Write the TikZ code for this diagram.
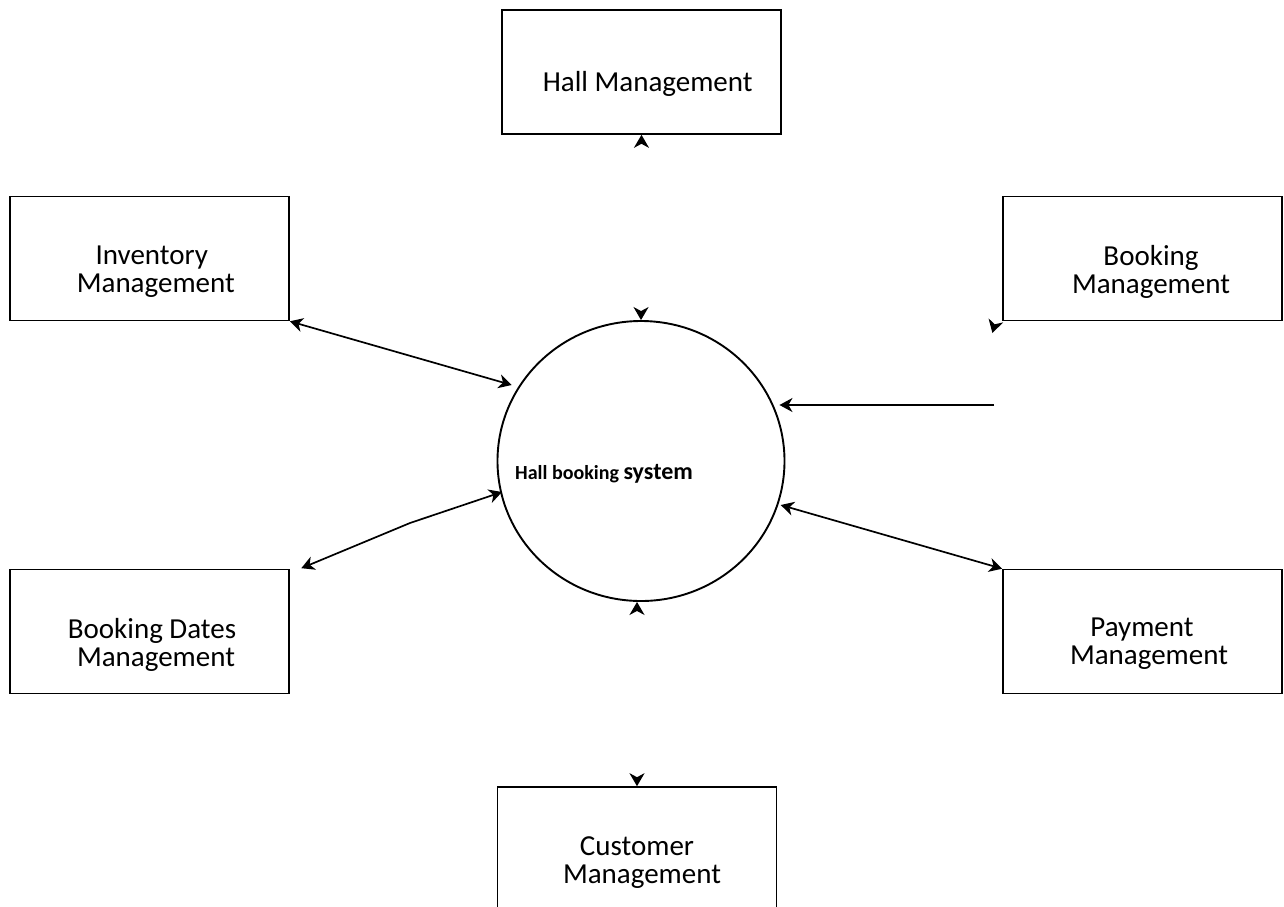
\documentclass[tikz,border=0pt]{standalone}
\usepackage{fontspec}
\setmainfont{Carlito}
\usetikzlibrary{arrows.meta,shapes.geometric}
\begin{document}
\begin{tikzpicture}[x=1pt,y=-1pt,
  >={Stealth[length=13pt,width=14pt,inset=4pt]},
  box/.style={draw=black,line width=1.6pt,rectangle,minimum width=279pt,minimum height=124pt,inner sep=0pt},
  lbl/.style={font=\fontsize{29}{28}\selectfont,align=center,inner sep=0pt,text=black},
  proc/.style={draw=black,line width=1.9pt,ellipse,minimum width=287pt,minimum height=280pt,inner sep=0pt},
  flow/.style={draw=black,line width=1.7pt},
  ghost/.style={draw=white,line width=1.7pt},
  gtip/.tip={Stealth[length=13pt,width=15pt,inset=4pt,color=black,fill=black]}
]
\path[use as bounding box,fill=white] (0,0) rectangle (1284,906);

% boxes
\node[box] (hall) at (641.5,72) {};
\node[box] (inv) at (149.5,258.5) {};
\node[box] (bk) at (1142.5,258.5) {};
\node[box] (dates) at (149.5,631.5) {};
\node[box] (pay) at (1142.5,631.5) {};
\node[box] (cust) at (637,849) {};
\node[proc] (circ) at (641,461) {};

% labels
\node[lbl,anchor=base] (hallT) at (647.7,91.7) {Hall Management};
\node[lbl] (invT) at (155.8,271.5) {Inventory\kern8pt\\Management};
\node[lbl] (bkT) at (1151,271.5) {Booking\\Management};
\node[lbl] (datesT) at (156,644.5) {Booking Dates\kern8pt\\Management};
\node[lbl] (payT) at (1149,643.5) {Payment\kern14pt\\Management};
\node[lbl] (custT) at (642,862.5) {Customer\kern10pt\\Management};
\node[anchor=base west,inner sep=0pt,font=\bfseries,text=black] (circT) at (515,479.3)
  {\fontsize{20}{24}\selectfont Hall booking \fontsize{24}{28}\selectfont system};

% connectors
\draw[flow,<->] (inv.south east) -- ([shift={(-129.3,-76)}]circ.center);
\coordinate (dk) at (410,523);
\draw[flow,<->] ([shift={(11.5,-0.5)}]dates.north east) -- (dk) -- ([shift={(-139,31)}]circ.center);
\coordinate (bkin) at (994,405);
\coordinate (bkend) at (bkin -| circ.east);
\draw[flow,->] (bkin) -- ([xshift=-6pt]bkend);
\draw[flow,<->] ([shift={(139.7,44)}]circ.center) -- (pay.north west);

% arrowheads without visible lines
\draw[ghost,gtip-gtip] (hall.south) -- (circ.north);
\draw[ghost,gtip-gtip] (circ.south -| cust.north) -- (cust.north);
\draw[ghost,-gtip] ([shift={(-6.2,-1.5)}]bk.south west) -- ([shift={(-9.8,11.7)}]bk.south west);
\end{tikzpicture}
\end{document}
